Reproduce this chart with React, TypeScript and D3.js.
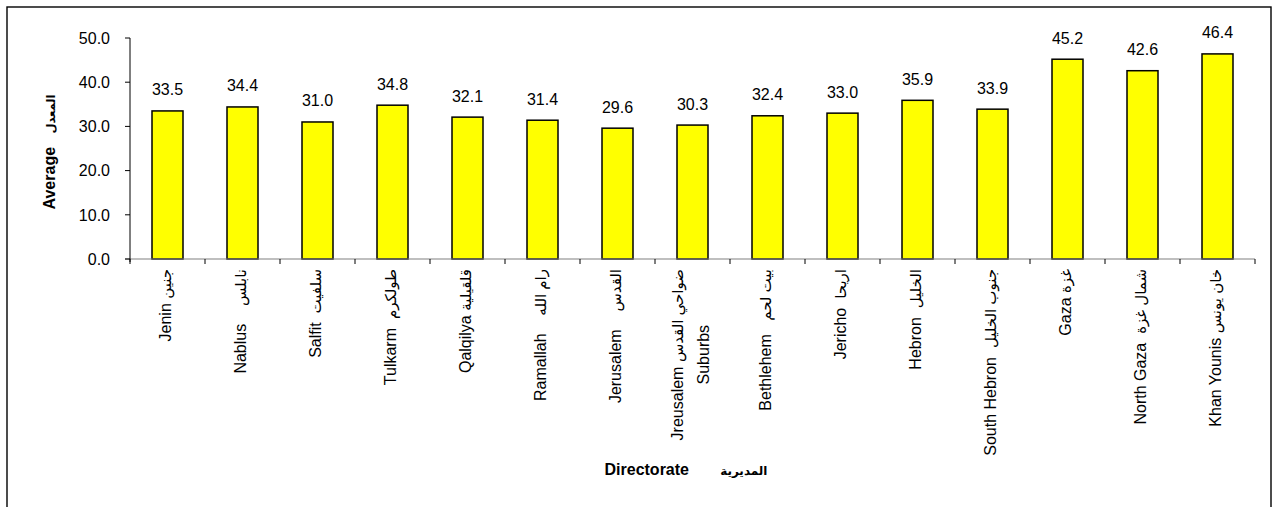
import React, { useEffect, useRef } from "react";
import * as d3 from "d3";

const categoriesEn: string[][] = [
  ["Jenin"], ["Nablus"], ["Salfit"], ["Tulkarm"], ["Qalqilya"], ["Ramallah"], ["Jerusalem"],
  ["Jreusalem", "Suburbs"], ["Bethlehem"], ["Jericho"], ["Hebron"], ["South Hebron"],
  ["Gaza"], ["North Gaza"], ["Khan Younis"],
];
const categoriesAr: string[] = [
  "جنين", "نابلس", "سلفيت", "طولكرم", "قلقيلية", "رام الله", "القدس",
  "ضواحي القدس", "بيت لحم", "اريحا", "الخليل", "جنوب الخليل",
  "غزة", "شمال غزة", "خان يونس",
];
const labelGaps: number[] = [1, 4, 2, 2, 1, 4, 4, 1, 3, 2, 2, 2, 1, 2, 1];
const values: number[] = [33.5, 34.4, 31.0, 34.8, 32.1, 31.4, 29.6, 30.3, 32.4, 33.0, 35.9, 33.9, 45.2, 42.6, 46.4];
const yTicks: number[] = [0, 10, 20, 30, 40, 50];
const yTitleEn = "Average";
const yTitleAr = "المعدل";
const xTitleEn = "Directorate";
const xTitleAr = "المديرية";

const FONT = "'Liberation Sans', Arial, 'DejaVu Sans', sans-serif";
const NB = "\u00A0";

export default function App() {
  const ref = useRef<SVGSVGElement | null>(null);

  useEffect(() => {
    const svg = d3.select(ref.current);
    svg.selectAll("*").remove();

    const left = 130, right = 1255, top = 38, bottom = 259;
    const idx = values.map((_, i) => i);
    const x = d3.scaleBand<number>().domain(idx).range([left, right]).paddingInner(44 / 75).paddingOuter(22 / 75);
    const y = d3.scaleLinear().domain([0, 50]).range([bottom, top]);
    const step = x.step();

    // outer frame
    svg.append("rect").attr("x", 7).attr("y", 7).attr("width", 1264).attr("height", 520)
      .attr("fill", "#fff").attr("stroke", "#000").attr("stroke-width", 1.4);

    // bars
    svg.append("g").selectAll("rect").data(values).join("rect")
      .attr("x", (_, i) => x(i)!)
      .attr("y", (d) => y(d))
      .attr("width", x.bandwidth())
      .attr("height", (d) => y(0) - y(d))
      .attr("fill", "#FFFF00")
      .attr("stroke", "#000")
      .attr("stroke-width", 1.5);

    // x axis line (gray)
    svg.append("line").attr("x1", left - 5).attr("x2", right).attr("y1", bottom).attr("y2", bottom)
      .attr("stroke", "#808080").attr("stroke-width", 1.2);
    // x ticks
    svg.append("g").selectAll("line").data(d3.range(values.length + 1)).join("line")
      .attr("x1", (i) => left + i * step).attr("x2", (i) => left + i * step)
      .attr("y1", bottom).attr("y2", bottom + 5)
      .attr("stroke", "#000").attr("stroke-width", 1);

    // y axis
    svg.append("line").attr("x1", left).attr("x2", left).attr("y1", top).attr("y2", bottom + 3)
      .attr("stroke", "#000").attr("stroke-width", 1);
    const yt = svg.append("g");
    yt.selectAll("line").data(yTicks).join("line")
      .attr("x1", left - 5).attr("x2", left).attr("y1", (d) => y(d)).attr("y2", (d) => y(d))
      .attr("stroke", "#000").attr("stroke-width", 1);
    yt.selectAll("text").data(yTicks).join("text")
      .attr("x", 110).attr("y", (d) => y(d)).attr("dy", "0.36em")
      .attr("text-anchor", "end").attr("font-family", FONT).attr("font-size", 16).attr("fill", "#000")
      .text((d) => d.toFixed(1));

    // value labels
    svg.append("g").selectAll("text").data(values).join("text")
      .attr("x", (_, i) => x(i)! + x.bandwidth() / 2)
      .attr("y", (d) => y(d) - 15.5)
      .attr("text-anchor", "middle").attr("font-family", FONT).attr("font-size", 16).attr("fill", "#000")
      .text((d) => d.toFixed(1));

    // category labels
    const labelTop = 269;
    const lineGap = 26;
    idx.forEach((i) => {
      const cx = x(i)! + x.bandwidth() / 2;
      const lines = categoriesEn[i];
      const g = svg.append("g").attr("transform", `translate(${cx},${labelTop}) rotate(-90)`);
      const texts = lines.map((ln, li) => {
        const t = g.append("text").attr("font-family", FONT).attr("font-size", 16).attr("fill", "#000")
          .attr("text-anchor", "middle");
        t.append("tspan").text(ln);
        if (li === 0) {
          t.append("tspan").text(NB.repeat(labelGaps[i]));
          t.append("tspan").attr("font-size", 15).text(categoriesAr[i]);
        }
        return t;
      });
      const lens = texts.map((t) => (t.node() as SVGTextElement).getComputedTextLength());
      const maxLen = Math.max(...lens);
      const n = lines.length;
      texts.forEach((t, li) => {
        const off = 3 + (li - (n - 1) / 2) * lineGap;
        t.attr("x", -maxLen / 2).attr("y", off);
      });
    });

    // y title
    const yTitle = svg.append("text")
      .attr("transform", `translate(55,152) rotate(-90)`)
      .attr("text-anchor", "middle").attr("font-family", FONT).attr("font-weight", "bold").attr("fill", "#000");
    yTitle.append("tspan").attr("font-size", 16).text(yTitleEn);
    yTitle.append("tspan").attr("font-size", 16).text(NB.repeat(3));
    yTitle.append("tspan").attr("font-size", 11.5).text(yTitleAr);

    // x title
    const xTitle = svg.append("text")
      .attr("x", 686).attr("y", 475)
      .attr("text-anchor", "middle").attr("font-family", FONT).attr("font-weight", "bold").attr("fill", "#000");
    xTitle.append("tspan").attr("font-size", 16).text(xTitleEn);
    xTitle.append("tspan").attr("font-size", 16).text(NB.repeat(7));
    xTitle.append("tspan").attr("font-size", 12).text(xTitleAr);
  }, []);

  return (
    <svg
      ref={ref}
      width={1274}
      height={507}
      style={{ position: "absolute", left: 0, top: 0, display: "block", background: "#fff" }}
    />
  );
}
